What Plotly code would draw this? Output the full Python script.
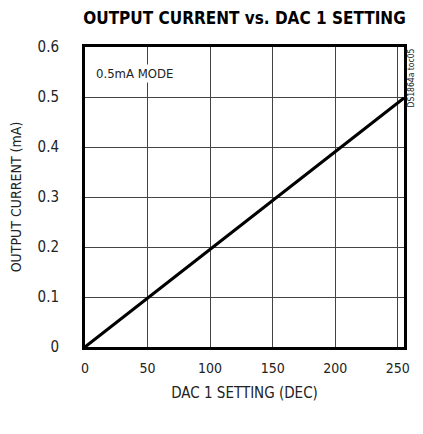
import plotly.graph_objects as go

dac_setting = [0, 255]
output_current = [0, 0.498]
x_ticks = [0, 50, 100, 150, 200, 250]
y_ticks = [0, 0.1, 0.2, 0.3, 0.4, 0.5, 0.6]
y_tick_labels = ["0", "0.1", "0.2", "0.3", "0.4", "0.5", "0.6"]

FONT = "DejaVu Sans Condensed, Liberation Sans Narrow, sans-serif"

# page body has an 8px default margin: compensate in figure size / margins
W, H = 415, 405
ML, MR, MT, MB = 77, 19, 39, 66
PW = W - ML - MR

fig = go.Figure()
fig.add_trace(go.Scatter(x=dac_setting, y=output_current, mode="lines",
                         line=dict(color="black", width=3), showlegend=False,
                         cliponaxis=False))

fig.update_layout(
    width=W, height=H,
    margin=dict(l=ML, r=MR, t=MT, b=MB),
    paper_bgcolor="white", plot_bgcolor="white",
    font=dict(family=FONT, size=14, color="#222"),
    title=dict(text="<b>OUTPUT CURRENT vs. DAC 1 SETTING</b>",
               x=(ML + (W - MR)) / 2 / W, xanchor="center", y=1 - 10 / H, yanchor="middle",
               font=dict(family=FONT, size=17, color="black")),
)
fig.update_xaxes(range=[0, 255], tickvals=x_ticks, showgrid=True, gridcolor="#444", gridwidth=1,
                 showline=True, linecolor="black", linewidth=3, mirror=True,
                 ticks="", ticklabelstandoff=6, zeroline=False, automargin=False,
                 tickfont=dict(size=14),
                 title=dict(text="DAC 1 SETTING (DEC)", standoff=13, font=dict(size=15)))
fig.update_yaxes(range=[0, 0.6], tickvals=y_ticks, ticktext=y_tick_labels,
                 showgrid=True, gridcolor="#444", gridwidth=1,
                 showline=True, linecolor="black", linewidth=3, mirror=True,
                 ticks="", ticklabelstandoff=20, zeroline=False, automargin=False,
                 tickfont=dict(size=15),
                 title=dict(text="OUTPUT CURRENT (mA)", standoff=14, font=dict(size=14)))

fig.add_annotation(x=7, y=0.548, xref="x", yref="y", text="0.5mA MODE", showarrow=False,
                   xanchor="left", yanchor="middle", bgcolor="white",
                   font=dict(family=FONT, size=13, color="#222"))
fig.add_annotation(x=1 + 6 / PW, y=1.0, xref="paper", yref="paper", text="DS1864a toc05",
                   showarrow=False, textangle=-90, xanchor="center", yanchor="top",
                   font=dict(family=FONT, size=8.5, color="#222"))

fig.write_html("out.html")
